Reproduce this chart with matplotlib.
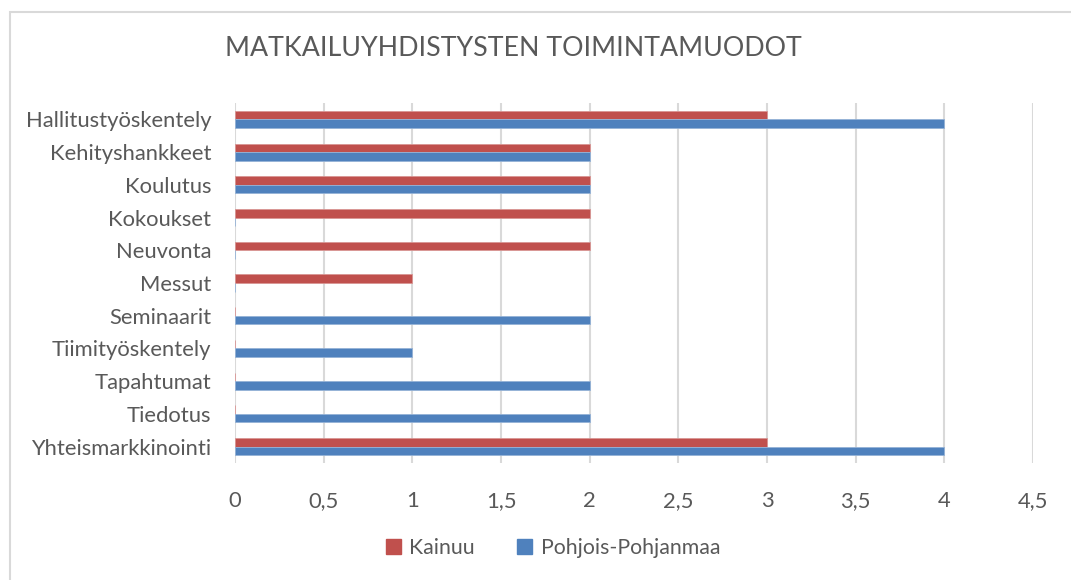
import matplotlib
matplotlib.use('Agg')
import matplotlib.pyplot as plt
from matplotlib.patches import Rectangle, Patch
import numpy as np

categories = ['Hallitustyöskentely', 'Kehityshankkeet', 'Koulutus', 'Kokoukset',
              'Neuvonta', 'Messut', 'Seminaarit', 'Tiimityöskentely',
              'Tapahtumat', 'Tiedotus', 'Yhteismarkkinointi']
kainuu = [3, 2, 2, 2, 2, 1, 0, 0, 0, 0, 3]
pohjois = [4, 2, 2, 0, 0, 0, 2, 1, 2, 2, 4]
xticks = [0, 0.5, 1, 1.5, 2, 2.5, 3, 3.5, 4, 4.5]
xticklabels = ['0', '0,5', '1', '1,5', '2', '2,5', '3', '3,5', '4', '4,5']

red = '#C0504D'
blue = '#4F81BD'
txt = '#595959'
grid = '#D9D9D9'

plt.rcParams['font.family'] = ['Lato', 'DejaVu Sans']

W, H = 1071, 580
fig = plt.figure(figsize=(W / 100, H / 100), dpi=100)

# chart frame (cut off at right and bottom like the original)
fig.patches.append(Rectangle((9.5 / W, -0.1), 2.0, 1.1 - 11.5 / H,
                             transform=fig.transFigure, fill=False,
                             edgecolor='#D9D9D9', linewidth=1.5))

left, right, top, bottom = 235, 1033, 103, 463
ax = fig.add_axes([left / W, 1 - bottom / H, (right - left) / W, (bottom - top) / H])

y = np.arange(len(categories))
h = 0.26
ax.barh(y - h / 2, kainuu, height=h, color=red, edgecolor='#D99694', linewidth=0.6,
        zorder=3, label='Kainuu')
ax.barh(y + h / 2, pohjois, height=h, color=blue, edgecolor='#95B3D7', linewidth=0.6,
        zorder=3, label='Pohjois-Pohjanmaa')

ax.set_ylim(len(categories) - 0.5, -0.5)
ax.set_xlim(0, 4.5)
ax.set_yticks(y)
ax.set_yticklabels(categories, fontsize=15.8, color=txt)
ax.set_xticks(xticks)
ax.set_xticklabels(xticklabels, fontsize=15.8, color=txt)
ax.tick_params(axis='y', length=0, pad=17)
ax.tick_params(axis='x', length=0, pad=20)

ax.grid(axis='x', color=grid, linewidth=1.5, zorder=0)
for s in ax.spines.values():
    s.set_visible(False)

fig.text(513 / W, 1 - 48 / H, 'MATKAILUYHDISTYSTEN TOIMINTAMUODOT',
         ha='center', va='center', fontsize=19.3, color=txt)

handles = [Patch(color=red, label='Kainuu'), Patch(color=blue, label='Pohjois-Pohjanmaa')]
fig.legend(handles=handles, loc='center', bbox_to_anchor=(553 / W, 1 - 548 / H),
           ncol=2, frameon=False, fontsize=15.3, labelcolor=txt,
           handlelength=0.7, handleheight=0.7, handletextpad=0.4, columnspacing=2.0)

fig.savefig('out.png', dpi=100)
